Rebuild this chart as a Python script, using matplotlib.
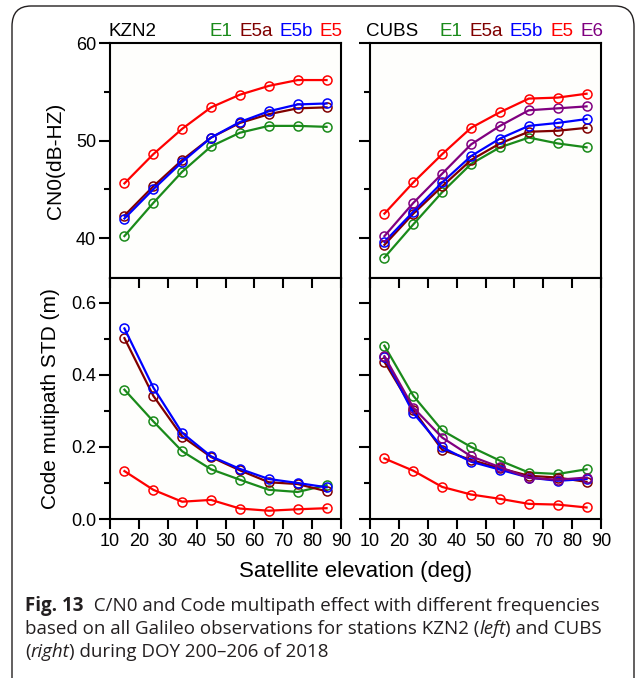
import matplotlib
matplotlib.use("Agg")
import matplotlib.pyplot as plt
from matplotlib.patches import FancyBboxPatch
from matplotlib.ticker import MultipleLocator

# elevation bins (deg)
elev = [15, 25, 35, 45, 55, 65, 75, 85]

# CN0 (dB-Hz)
kzn2_cn0_e1 = [40.2, 43.6, 46.8, 49.4, 50.8, 51.5, 51.5, 51.4]
kzn2_cn0_e5a = [42.3, 45.3, 48.0, 50.3, 51.8, 52.7, 53.3, 53.4]
kzn2_cn0_e5b = [42.0, 45.0, 47.8, 50.3, 51.9, 53.0, 53.7, 53.8]
kzn2_cn0_e5 = [45.6, 48.6, 51.2, 53.4, 54.7, 55.6, 56.2, 56.2]

cubs_cn0_e1 = [38.0, 41.4, 44.7, 47.6, 49.3, 50.3, 49.7, 49.3]
cubs_cn0_e5a = [39.3, 42.5, 45.3, 48.0, 49.7, 50.9, 51.0, 51.3]
cubs_cn0_e5b = [39.6, 42.7, 45.7, 48.4, 50.2, 51.5, 51.8, 52.2]
cubs_cn0_e5 = [42.5, 45.7, 48.6, 51.3, 52.9, 54.3, 54.4, 54.8]
cubs_cn0_e6 = [40.2, 43.6, 46.6, 49.6, 51.5, 53.1, 53.3, 53.5]

# code multipath STD (m)
kzn2_mp_e1 = [0.359, 0.271, 0.188, 0.138, 0.109, 0.081, 0.075, 0.094]
kzn2_mp_e5a = [0.502, 0.342, 0.229, 0.172, 0.135, 0.102, 0.097, 0.077]
kzn2_mp_e5b = [0.529, 0.365, 0.239, 0.174, 0.139, 0.111, 0.100, 0.088]
kzn2_mp_e5 = [0.133, 0.081, 0.048, 0.053, 0.029, 0.023, 0.027, 0.030]

cubs_mp_e1 = [0.481, 0.342, 0.246, 0.200, 0.162, 0.129, 0.125, 0.138]
cubs_mp_e5a = [0.436, 0.303, 0.192, 0.164, 0.141, 0.120, 0.115, 0.103]
cubs_mp_e5b = [0.449, 0.294, 0.199, 0.159, 0.137, 0.115, 0.106, 0.111]
cubs_mp_e5 = [0.168, 0.134, 0.089, 0.068, 0.056, 0.042, 0.040, 0.032]
cubs_mp_e6 = [0.452, 0.309, 0.226, 0.174, 0.144, 0.114, 0.109, 0.115]

colors = {"E1": "#1a8a1a", "E5a": "#800000", "E5b": "#0000ff",
          "E5": "#ff0000", "E6": "#800080"}

plt.rcParams["font.family"] = ["Liberation Sans", "DejaVu Sans"]

fig = plt.figure(figsize=(6.35, 6.78), dpi=100)
W, H = 635.0, 678.0

def ax_at(x0, y0, x1, y1):
    return fig.add_axes([x0 / W, 1 - y1 / H, (x1 - x0) / W, (y1 - y0) / H])

ax_tl = ax_at(110, 43, 341, 278)
ax_tr = ax_at(370, 43, 601, 278)
ax_bl = ax_at(110, 278, 341, 519)
ax_br = ax_at(370, 278, 601, 519)

def draw(ax, series):
    for name, vals in series:
        ax.plot(elev, vals, color=colors[name], lw=1.6, marker="o", ms=6.5,
                mfc="none", mec=colors[name], mew=1.1)

draw(ax_tl, [("E1", kzn2_cn0_e1), ("E5a", kzn2_cn0_e5a),
             ("E5b", kzn2_cn0_e5b), ("E5", kzn2_cn0_e5)])
draw(ax_tr, [("E1", cubs_cn0_e1), ("E5a", cubs_cn0_e5a),
             ("E5b", cubs_cn0_e5b), ("E6", cubs_cn0_e6), ("E5", cubs_cn0_e5)])
draw(ax_bl, [("E1", kzn2_mp_e1), ("E5a", kzn2_mp_e5a),
             ("E5b", kzn2_mp_e5b), ("E5", kzn2_mp_e5)])
draw(ax_br, [("E1", cubs_mp_e1), ("E5a", cubs_mp_e5a),
             ("E5b", cubs_mp_e5b), ("E6", cubs_mp_e6), ("E5", cubs_mp_e5)])

for ax in (ax_tl, ax_tr, ax_bl, ax_br):
    ax.set_xlim(10, 90)
    for s in ax.spines.values():
        s.set_linewidth(1.5)
    ax.set_facecolor("#fefefc")
    ax.tick_params(axis="y", which="major", direction="out", length=8,
                   width=1.5, labelsize=13, pad=2)
    ax.tick_params(axis="y", which="minor", direction="out", length=4,
                   width=1.5)

for ax in (ax_tl, ax_tr):
    ax.yaxis.set_major_locator(MultipleLocator(10))
    ax.yaxis.set_minor_locator(MultipleLocator(5))
    ax.tick_params(axis="x", which="both", bottom=False, labelbottom=False)
    ax.set_ylim(35.9, 60)

for ax in (ax_bl, ax_br):
    ax.yaxis.set_major_locator(MultipleLocator(0.2))
    ax.yaxis.set_minor_locator(MultipleLocator(0.1))
    ax.xaxis.set_major_locator(MultipleLocator(10))
    ax.tick_params(axis="x", which="major", direction="out", length=7,
                   width=1.5, top=True, labelsize=13, pad=3)
    ax.set_ylim(0, 0.669)

fig.canvas.draw()
# top x ticks of the lower panels point inward
for ax in (ax_bl, ax_br):
    for t in ax.xaxis.get_major_ticks():
        t.tick2line.set_marker(3)

ax_bl.yaxis.set_major_formatter(matplotlib.ticker.FormatStrFormatter("%.1f"))
ax_tr.tick_params(axis="y", labelleft=False)
ax_br.tick_params(axis="y", labelleft=False)

ax_tl.set_ylabel("CN0(dB-HZ)", fontsize=15, labelpad=8)
ax_bl.set_ylabel("Code mutipath STD (m)", fontsize=15, labelpad=8)
fig.text((110 + 601) / 2 / W, 1 - 571 / H, "Satellite elevation (deg)",
         ha="center", va="center", fontsize=16)

fig.canvas.draw()
renderer = fig.canvas.get_renderer()

def runs_right(x_right, y, runs, size):
    # draw coloured words ending at x_right (pixels), right to left
    x = x_right
    for txt, col in reversed(runs):
        t = fig.text(x / W, 1 - y / H, txt, color=col, fontsize=size,
                     ha="right", va="baseline")
        bb = t.get_window_extent(renderer)
        x -= bb.width + 7

def runs_left(x_left, y, runs, size, family):
    x = x_left
    for txt, weight, style in runs:
        t = fig.text(x / W, 1 - y / H, txt, fontsize=size, ha="left",
                     va="baseline", family=family, weight=weight,
                     style=style, color="#231f20")
        bb = t.get_window_extent(renderer)
        x += bb.width

fig.text(108 / W, 1 - 36 / H, "KZN2", fontsize=13.5, va="baseline")
fig.text(366 / W, 1 - 36 / H, "CUBS", fontsize=13.5, va="baseline")
runs_right(343, 36, [("E1", colors["E1"]), ("E5a", colors["E5a"]),
                     ("E5b", colors["E5b"]), ("E5", colors["E5"])], 13.5)
runs_right(603, 36, [("E1", colors["E1"]), ("E5a", colors["E5a"]),
                     ("E5b", colors["E5b"]), ("E5", colors["E5"]),
                     ("E6", colors["E6"])], 13.5)

cap = ["Open Sans", "DejaVu Sans"]
runs_left(25, 611, [("Fig. 13", "bold", "normal"),
                    ("  C/N0 and Code multipath effect with different frequencies",
                     "normal", "normal")], 13.5, cap)
runs_left(25, 634, [("based on all Galileo observations for stations KZN2 (",
                     "normal", "normal"), ("left", "normal", "italic"),
                    (") and CUBS", "normal", "normal")], 13.5, cap)
runs_left(25, 657, [("(", "normal", "normal"), ("right", "normal", "italic"),
                    (") during DOY 200\u2013206 of 2018", "normal", "normal")],
          13.5, cap)

box = FancyBboxPatch((12 / W, 1 - 700 / H), 622 / W, 694 / H,
                     boxstyle="round,pad=0,rounding_size=0.03",
                     transform=fig.transFigure, fill=False, lw=1.0,
                     ec="#231f20", clip_on=False)
fig.patches.append(box)

fig.savefig("out.png", dpi=100)
